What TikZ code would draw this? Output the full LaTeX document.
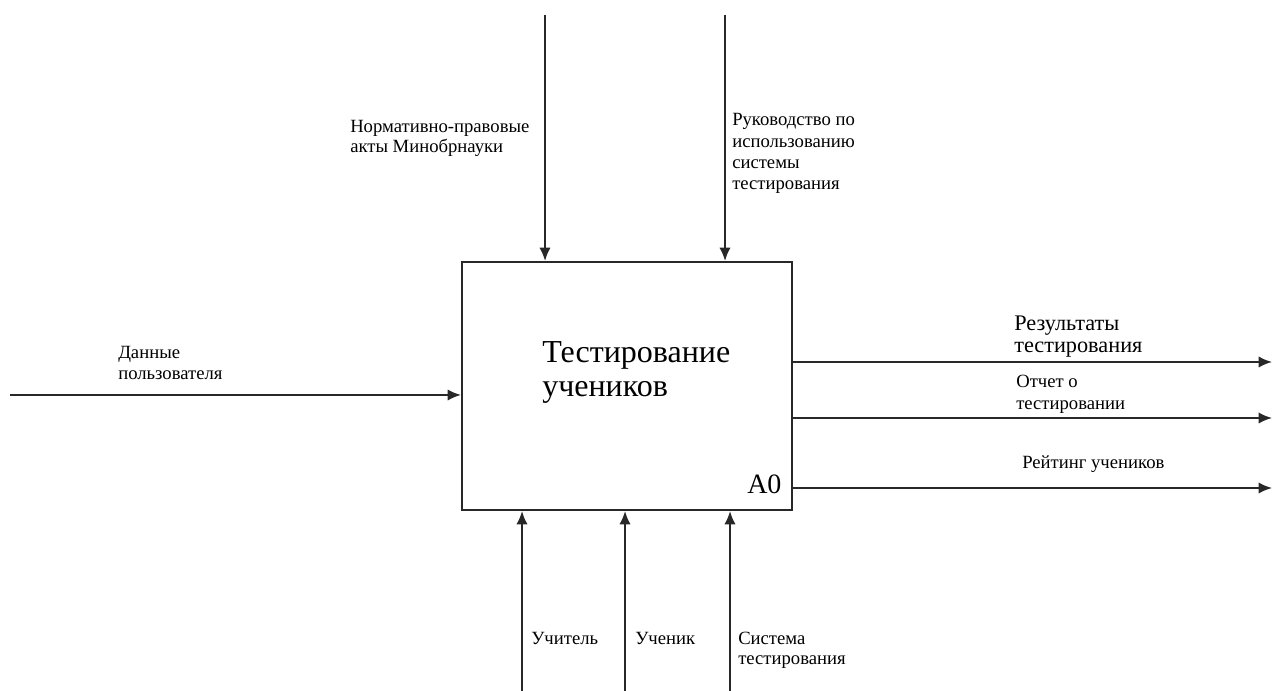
\documentclass[tikz,border=0pt]{standalone}
\usepackage{fontspec}
\setmainfont{Liberation Serif}
\usetikzlibrary{arrows.meta}

\begin{document}
\begin{tikzpicture}[x=0.75pt,y=0.75pt,yscale=-1,xscale=1,
  arr/.style={line width=1.5pt,color={rgb, 255:red, 40; green, 40; blue, 40 },-{Latex[length=10pt,width=8.5pt]}},
  lbl/.style={anchor=base west,inner sep=0pt,align=left,font=\fontsize{14}{16}\selectfont}]
\useasboundingbox (0,0) rectangle (1272,691);

%Shape: Rectangle [id:box]
\node [draw,line width=1.5pt,color={rgb, 255:red, 40; green, 40; blue, 40 },minimum width=247.5pt,minimum height=186pt,inner sep=0pt] (box) at (627,386) {};

%Free ends of the arrows
\coordinate (ctlA) at (545,15);
\coordinate (ctlB) at (725,15);
\coordinate (inA) at (10,395);
\coordinate (outA) at (1272,362);
\coordinate (outB) at (1272,418);
\coordinate (outC) at (1272,488);
\coordinate (mechA) at (522,691);
\coordinate (mechB) at (625,691);
\coordinate (mechC) at (730,691);

%Straight Lines [id:controls]
\draw [arr] (ctlA) -- (ctlA |- box.north);
\draw [arr] (ctlB) -- (ctlB |- box.north);
%Straight Lines [id:input]
\draw [arr] (inA) -- (inA -| box.west);
%Straight Lines [id:outputs]
\draw [arr] (outA -| box.east) -- (outA);
\draw [arr] (outB -| box.east) -- (outB);
\draw [arr] (outC -| box.east) -- (outC);
%Straight Lines [id:mechanisms]
\draw [arr] (mechA) -- (mechA |- box.south);
\draw [arr] (mechB) -- (mechB |- box.south);
\draw [arr] (mechC) -- (mechC |- box.south);

% Text Node (base = last line)
\node [anchor=base west,inner sep=0pt,align=left,font=\fontsize{24}{26}\selectfont] (title) at (542,397) {Тестирование\\учеников};
% Text Node
\node [anchor=base west,inner sep=0pt,font=\fontsize{21}{24}\selectfont] (num) at (747,494) {A0};
% Text Node
\node [lbl,font=\fontsize{14}{15}\selectfont] (norm) at (350,153) {Нормативно-правовые\\акты Минобрнауки};
% Text Node
\node [lbl] (guide) at (732,190) {Руководство по\\использованию\\системы\\тестирования};
% Text Node
\node [lbl] (data) at (118,380) {Данные\\пользователя};
% Text Node
\node [lbl,font=\fontsize{16.7}{16.5}\selectfont] (res) at (1014,353) {Результаты\\тестирования};
% Text Node
\node [lbl,font=\fontsize{14}{16.5}\selectfont] (report) at (1016,410) {Отчет о\\тестировании};
% Text Node
\node [lbl] (rating) at (1022,469) {Рейтинг учеников};
% Text Node
\node [lbl] (teacher) at (531,644) {Учитель};
% Text Node
\node [lbl] (student) at (635,644) {Ученик};
% Text Node
\node [lbl,font=\fontsize{14}{15}\selectfont] (sys) at (738,664) {Система\\тестирования};

\end{tikzpicture}
\end{document}
